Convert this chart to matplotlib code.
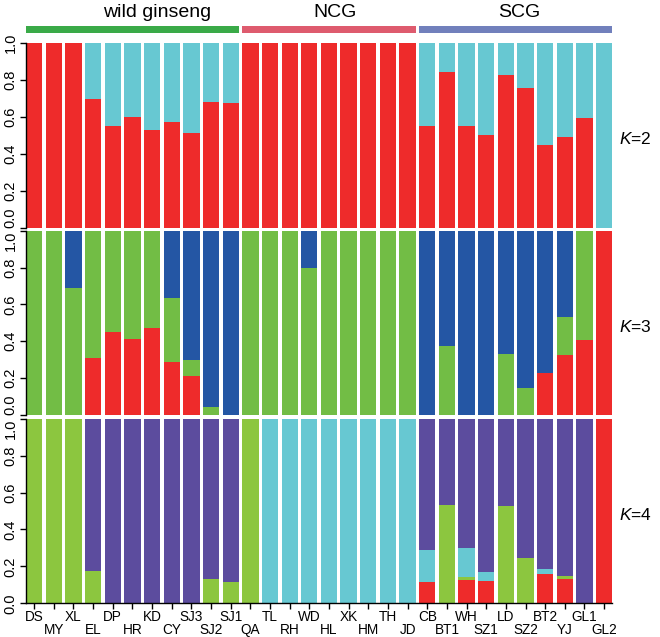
import matplotlib
matplotlib.use("Agg")
import matplotlib.pyplot as plt
from matplotlib.transforms import blended_transform_factory

plt.rcParams["font.family"] = ["Liberation Sans", "DejaVu Sans"]
plt.rcParams["mathtext.fontset"] = "custom"
plt.rcParams["mathtext.it"] = "Liberation Sans:italic"
plt.rcParams["mathtext.rm"] = "Liberation Sans"

# Populations, left to right
pops = ["DS", "MY", "XL", "EL", "DP", "HR", "KD", "CY", "SJ3", "SJ2", "SJ1",
        "QA", "TL", "RH", "WD", "HL", "XK", "HM", "TH", "JD",
        "CB", "BT1", "WH", "SZ1", "LD", "SZ2", "BT2", "YJ", "GL1", "GL2"]

groups = ["wild ginseng", "NCG", "SCG"]
group_sizes = [11, 9, 10]

# K=2 membership (bottom -> top: red, cyan)
k2_red = [1, 1, 1, 0.70, 0.55, 0.60, 0.53, 0.575, 0.515, 0.68, 0.675,
          1, 1, 1, 1, 1, 1, 1, 1, 1,
          0.55, 0.845, 0.55, 0.505, 0.83, 0.76, 0.45, 0.49, 0.595, 0]
k2_cyan = [0, 0, 0, 0.30, 0.45, 0.40, 0.47, 0.425, 0.485, 0.32, 0.325,
           0, 0, 0, 0, 0, 0, 0, 0, 0,
           0.45, 0.155, 0.45, 0.495, 0.17, 0.24, 0.55, 0.51, 0.405, 1]

# K=3 membership (bottom -> top: red, green, blue)
k3_red = [0, 0, 0, 0.31, 0.45, 0.41, 0.47, 0.285, 0.21, 0, 0,
          0, 0, 0, 0, 0, 0, 0, 0, 0,
          0, 0, 0, 0, 0, 0, 0.23, 0.325, 0.405, 1]
k3_green = [1, 1, 0.69, 0.69, 0.55, 0.59, 0.53, 0.35, 0.09, 0.045, 0,
            1, 1, 1, 0.80, 1, 1, 1, 1, 1,
            0, 0.375, 0, 0, 0.33, 0.145, 0, 0.205, 0.595, 0]
k3_blue = [0, 0, 0.31, 0, 0, 0, 0, 0.365, 0.70, 0.955, 1,
           0, 0, 0, 0.20, 0, 0, 0, 0, 0,
           1, 0.625, 1, 1, 0.67, 0.855, 0.77, 0.47, 0, 0]

# K=4 membership (bottom -> top: red, green, cyan, purple)
k4_red = [0, 0, 0, 0, 0, 0, 0, 0, 0, 0, 0,
          0, 0, 0, 0, 0, 0, 0, 0, 0,
          0.115, 0, 0.125, 0.12, 0, 0, 0.16, 0.13, 0, 1]
k4_green = [1, 1, 1, 0.175, 0, 0, 0, 0, 0, 0.13, 0.115,
            1, 0, 0, 0, 0, 0, 0, 0, 0,
            0, 0.535, 0.02, 0, 0.525, 0.245, 0, 0.02, 0, 0]
k4_cyan = [0, 0, 0, 0, 0, 0, 0, 0, 0, 0, 0,
           0, 1, 1, 1, 1, 1, 1, 1, 1,
           0.175, 0, 0.155, 0.05, 0, 0, 0.025, 0, 0, 0]
k4_purple = [0, 0, 0, 0.825, 1, 1, 1, 1, 1, 0.87, 0.885,
             0, 0, 0, 0, 0, 0, 0, 0, 0,
             0.71, 0.465, 0.70, 0.83, 0.475, 0.755, 0.815, 0.85, 1, 0]

yticks = [0, 0.2, 0.4, 0.6, 0.8, 1.0]
ytick_labels = ["0.0", "0.2", "0.4", "0.6", "0.8", "1.0"]

RED = "#ee2b2b"
CYAN = "#67c8d2"
GREEN3 = "#72bd45"
BLUE = "#2456a4"
GREEN4 = "#8cc63f"
PURPLE = "#5c4c9e"
GROUP_COLORS = ["#3aaa48", "#de5b6e", "#7180bc"]

BAR_W = 0.83
PAD = (1 - BAR_W) / 2
W, H = 660, 637

fig = plt.figure(figsize=(6.6, 6.37), dpi=100, facecolor="white")


def px_axes(left, top, right, bottom):
    return fig.add_axes([left / W, 1 - bottom / H, (right - left) / W, (bottom - top) / H])


X0, X1 = 26, 612.3
panels = [
    ("$K$=2", (43.3, 227.7), [(k2_red, RED), (k2_cyan, CYAN)]),
    ("$K$=3", (230.7, 415.0), [(k3_red, RED), (k3_green, GREEN3), (k3_blue, BLUE)]),
    ("$K$=4", (418.7, 603.3), [(k4_red, RED), (k4_green, GREEN4), (k4_cyan, CYAN), (k4_purple, PURPLE)]),
]

xs = [i + 0.5 for i in range(len(pops))]
axes = []
for n, (label, (top, bottom), layers) in enumerate(panels):
    ax = px_axes(X0, top, X1, bottom)
    base = [0.0] * len(pops)
    for vals, col in layers:
        ax.bar(xs, vals, width=BAR_W, bottom=base, color=col, linewidth=0)
        base = [b + v for b, v in zip(base, vals)]
    ax.set_xlim(PAD, len(pops) - PAD)
    ax.set_ylim(0, 1)
    for s in ("top", "right", "bottom"):
        ax.spines[s].set_visible(False)
    ax.spines["left"].set_linewidth(1.0)
    ax.set_yticks(yticks)
    ax.set_yticklabels(ytick_labels, rotation=90, va="center", fontsize=10.5)
    ax.tick_params(axis="y", length=4, width=1.0, pad=2, colors="black")
    # stacked panels: push the touching 0.0 / 1.0 labels apart
    tls = ax.get_yticklabels()
    if n < len(panels) - 1:
        tls[0].set_va("bottom")
    if n > 0:
        tls[-1].set_va("top")
    ax.set_xticks([])
    ax.text(1.012, 0.48, label, transform=ax.transAxes, fontsize=12.5,
            ha="left", va="center")
    axes.append(ax)

# bottom axis with two rows of population labels
axb = axes[-1]
axb.spines["bottom"].set_visible(True)
axb.spines["bottom"].set_linewidth(1.0)
axb.set_xticks(xs)
axb.set_xticklabels([])
axb.tick_params(axis="x", length=4.5, width=1.0)
trans = blended_transform_factory(axb.transData, axb.transAxes)
for i, name in enumerate(pops):
    dy = -10 if i % 2 == 0 else -19.5
    axb.annotate(name, xy=(xs[i], 0), xycoords=trans, xytext=(0, dy),
                 textcoords="offset points", ha="center", va="center",
                 fontsize=9.8)

# group bars on top
axt = px_axes(X0, 26, X1, 33.3)
axt.set_xlim(PAD, len(pops) - PAD)
axt.set_ylim(0, 1)
axt.axis("off")
label_shift = [1.24, 0.3, 0.2]
start = 0
for name, size, col, shift in zip(groups, group_sizes, GROUP_COLORS, label_shift):
    axt.bar(start + PAD, 1, width=size - 2 * PAD, align="edge", color=col, linewidth=0)
    axt.text(start + size / 2 + shift, 2.9, name, ha="center", va="center",
             fontsize=14, clip_on=False)
    start += size

fig.savefig("out.png", dpi=100, facecolor="white")
